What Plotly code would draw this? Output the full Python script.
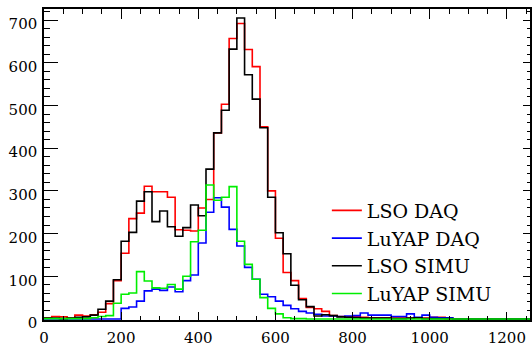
import plotly.graph_objects as go

# Bin edges: 20-unit bins from 0 to 1260
bin_width = 20
n_bins = 63
edges = [i * bin_width for i in range(n_bins + 1)]

lso_daq = [3, 6, 5, 2, 9, 7, 10, 16, 36, 90,
           154, 235, 248, 311, 298, 298, 285, 209, 208, 206,
           260, 280, 436, 503, 657, 692, 631, 591, 450, 300,
           189, 109, 90, 48, 27, 24, 18, 8, 6, 5,
           5, 4, 3, 3, 3, 2, 2, 2, 3, 2,
           4, 4, 1, 0, 0, 0, 0, 0, 0, 0,
           0, 0, 0]
luyap_daq = [0, 0, 0, 0, 0, 0, 0, 0, 0, 0,
             25, 28, 42, 66, 70, 67, 75, 64, 90, 103,
             178, 250, 284, 262, 210, 171, 121, 93, 58, 52,
             42, 32, 24, 18, 14, 11, 7, 7, 6, 7,
             8, 14, 9, 9, 9, 6, 6, 12, 4, 9,
             4, 3, 3, 0, 0, 0, 0, 0, 0, 0,
             0, 0, 0]
lso_simu = [2, 2, 1, 2, 4, 5, 9, 23, 42, 92,
            182, 203, 276, 298, 228, 253, 216, 194, 214, 267,
            242, 351, 436, 489, 632, 705, 572, 515, 448, 285,
            202, 153, 79, 45, 29, 7, 10, 8, 5, 4,
            3, 2, 2, 2, 2, 1, 1, 2, 3, 1,
            1, 1, 1, 0, 0, 0, 0, 0, 0, 0,
            0, 0, 0]
luyap_simu = [1, 1, 1, 1, 1, 1, 3, 6, 8, 37,
              58, 61, 111, 89, 73, 72, 81, 70, 100, 181,
              208, 314, 278, 285, 310, 182, 128, 93, 50, 25,
              12, 3, 1, 1, 0, 0, 0, 0, 0, 0,
              0, 0, 0, 0, 0, 0, 0, 0, 0, 0,
              0, 0, 0, 0, 0, 0, 0, 0, 0, 0,
              0, 0, 0]

series = [
    ("LSO DAQ", lso_daq, "#ff0000"),
    ("LuYAP DAQ", luyap_daq, "#0000ff"),
    ("LSO SIMU", lso_simu, "#000000"),
    ("LuYAP SIMU", luyap_simu, "#00ee00"),
]

x_ticks = [0, 200, 400, 600, 800, 1000, 1200]
y_ticks = [0, 100, 200, 300, 400, 500, 600, 700]
x_range = [0, 1260]
y_range = [-2.3, 726]

FONT = "DejaVu Serif"

fig = go.Figure()
for name, counts, color in series:
    # step outline: each count held across its bin, last value closes the final edge
    fig.add_trace(go.Scatter(
        x=edges,
        y=counts + [counts[-1]],
        mode="lines",
        line=dict(shape="hv", color=color, width=1.6),
        name=name,
    ))

# empty trace that carries the top/right frame axes
fig.add_trace(go.Scatter(x=[None], y=[None], xaxis="x2", yaxis="y2",
                         mode="lines", showlegend=False, hoverinfo="skip"))

axis_common = dict(
    showgrid=False, zeroline=False, showline=True,
    linecolor="black", linewidth=1.5,
    ticks="inside", tickcolor="black", tickwidth=1.2,
)

fig.update_layout(
    width=532, height=349,
    margin=dict(l=44, r=2, t=9, b=20),
    paper_bgcolor="white", plot_bgcolor="white",
    font=dict(family=FONT, size=15, color="black"),
    showlegend=True,
    legend=dict(
        x=0.582, y=0.413, xanchor="left", yanchor="top",
        bgcolor="rgba(0,0,0,0)", borderwidth=0,
        font=dict(family=FONT, size=19, color="black"),
        tracegroupgap=0,
    ),
    xaxis=dict(
        range=x_range, tickvals=x_ticks, ticktext=[str(v) for v in x_ticks],
        ticklen=8, ticklabelstandoff=3,
        minor=dict(dtick=50, ticklen=4, ticks="inside", tickcolor="black", tickwidth=1.2),
        tickfont=dict(family=FONT, size=15),
        **axis_common,
    ),
    yaxis=dict(
        range=y_range, tickvals=y_ticks, ticktext=[str(v) for v in y_ticks],
        ticklen=14, ticklabelshift=4, ticklabelstandoff=2,
        minor=dict(dtick=20, ticklen=6, ticks="inside", tickcolor="black", tickwidth=1.2),
        tickfont=dict(family=FONT, size=15),
        **axis_common,
    ),
    # top and right frame with their own shorter tick marks
    xaxis2=dict(
        overlaying="x", side="top", range=x_range, tickvals=x_ticks,
        showticklabels=False, ticklen=10,
        minor=dict(dtick=50, ticklen=5, ticks="inside", tickcolor="black", tickwidth=1.2),
        **axis_common,
    ),
    yaxis2=dict(
        overlaying="y", side="right", range=y_range, tickvals=y_ticks,
        showticklabels=False, ticklen=7,
        minor=dict(dtick=20, ticklen=3, ticks="inside", tickcolor="black", tickwidth=1.2),
        **axis_common,
    ),
)

fig.write_html("out.html")
